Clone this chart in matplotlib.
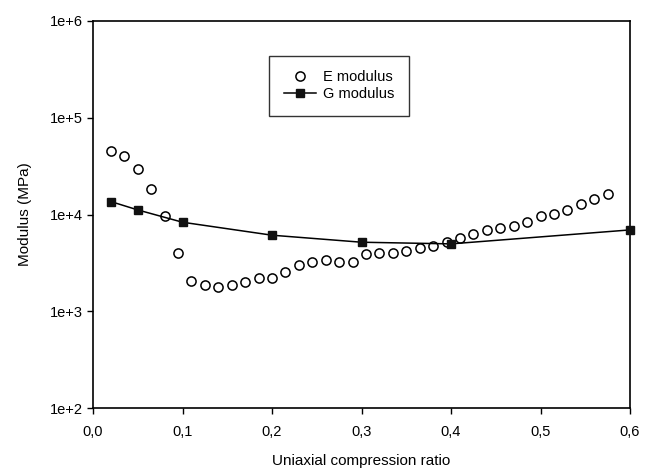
import matplotlib.pyplot as plt

plt.rcParams["font.family"] = ["Liberation Sans", "DejaVu Sans"]

# E modulus (open circles)
e_ratio = [0.020, 0.035, 0.050, 0.065, 0.080, 0.095, 0.110, 0.125, 0.140, 0.155,
           0.170, 0.185, 0.200, 0.215, 0.230, 0.245, 0.260, 0.275, 0.290, 0.305,
           0.320, 0.335, 0.350, 0.365, 0.380, 0.395, 0.410, 0.425, 0.440, 0.455,
           0.470, 0.485, 0.500, 0.515, 0.530, 0.545, 0.560, 0.575]
e_modulus = [45400, 40300, 29400, 18500, 9700, 4000, 2060, 1870, 1800, 1870,
             2000, 2200, 2200, 2530, 3010, 3260, 3390, 3210, 3210, 3890,
             4040, 4040, 4240, 4490, 4740, 5250, 5690, 6250, 6930, 7330,
             7630, 8450, 9680, 10100, 11200, 12900, 14400, 16300]

# G modulus (filled squares with line)
g_ratio = [0.02, 0.05, 0.10, 0.20, 0.30, 0.40, 0.60]
g_modulus = [13600, 11150, 8320, 6110, 5170, 4970, 6930]

y_ticks = [1e2, 1e3, 1e4, 1e5, 1e6]
y_labels = ["1e+2", "1e+3", "1e+4", "1e+5", "1e+6"]
x_ticks = [0.0, 0.1, 0.2, 0.3, 0.4, 0.5, 0.6]
x_labels = ["0,0", "0,1", "0,2", "0,3", "0,4", "0,5", "0,6"]

fig = plt.figure(figsize=(6.49, 4.70), dpi=100)
ax = fig.add_axes([93 / 649, 1 - 408 / 470, 537 / 649, 387 / 470])

ax.plot(e_ratio, e_modulus, linestyle="none", marker="o", markersize=6.6,
        markerfacecolor="white", markeredgecolor="black", markeredgewidth=1.1,
        label="E modulus", clip_on=False, zorder=3)
ax.plot(g_ratio, g_modulus, color="black", linewidth=1.1, marker="s",
        markersize=6, markerfacecolor="#111111", markeredgecolor="#111111",
        label="G modulus", clip_on=False, zorder=4)

ax.set_yscale("log")
ax.set_xlim(0, 0.6)
ax.set_ylim(1e2, 1e6)
ax.set_yticks(y_ticks)
ax.set_yticklabels(y_labels)
ax.yaxis.set_minor_locator(plt.NullLocator())
ax.set_xticks(x_ticks)
ax.set_xticklabels(x_labels)

ax.tick_params(direction="out", length=4, width=1, labelsize=10.5, colors="black")
ax.tick_params(axis="x", pad=8)
for s in ax.spines.values():
    s.set_linewidth(1.2)

ax.set_xlabel("Uniaxial compression ratio", fontsize=11, labelpad=11)
ax.set_ylabel("Modulus (MPa)", fontsize=11, labelpad=13)

leg = ax.legend(loc="upper left", bbox_to_anchor=(0.328, 0.91), fontsize=10.5,
                frameon=True, fancybox=False, edgecolor="black",
                handlelength=2.2, borderpad=1.0, labelspacing=0.2,
                borderaxespad=0, handletextpad=0.5)
leg.get_frame().set_linewidth(1.0)

fig.savefig("out.png", dpi=100)
